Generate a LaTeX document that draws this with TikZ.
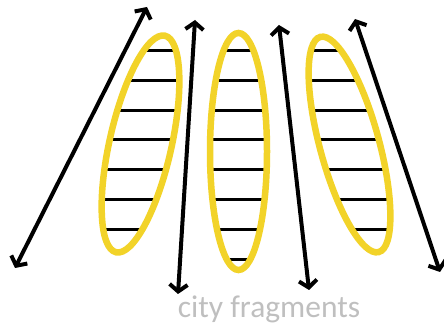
\documentclass[tikz,border=0pt]{standalone}
\usepackage{fontspec}
\setmainfont{Carlito}
\usetikzlibrary{arrows.meta}
\definecolor{ringyellow}{RGB}{242,211,41}
\definecolor{labelgray}{RGB}{191,191,191}

\begin{document}
\begin{tikzpicture}[x=1pt, y=1pt,
  link/.style={line width=4pt,
    {Straight Barb[length=7pt,width=18pt]}-{Straight Barb[length=7pt,width=18pt]}},
  ring/.style={draw=ringyellow, line width=6.5pt},
  rung/.style={line width=3pt}]
  \useasboundingbox (0,0) rectangle (444,329);
  % fragments with their rungs
  \foreach \cx/\cy/\tilt/\rx/\ry in {140.5/185/-12.7/31/111, 238.5/177.5/0/28.5/118.5, 349.5/184.5/15.2/29.6/111.5} {
    \begin{scope}
      \clip[rotate around={\tilt:(\cx,\cy)}] (\cx,\cy) ellipse [x radius=\rx, y radius=\ry];
      \foreach \yy in {278,248,218,189,159,129,99,69}
        \draw[rung] (\cx-60,\yy) -- (\cx+60,\yy);
    \end{scope}
    \draw[ring, rotate around={\tilt:(\cx,\cy)}] (\cx,\cy) ellipse [x radius=\rx, y radius=\ry];
  }
  % arrows
  \coordinate (low1) at (15,61);
  \coordinate (top1) at (147,322);
  \coordinate (low2) at (178,35);
  \coordinate (top2) at (195,309);
  \coordinate (low3) at (309,39);
  \coordinate (top3) at (279,304);
  \coordinate (low4) at (440,57);
  \coordinate (top4) at (355,310);
  \draw[link] (low1) -- (top1);
  \draw[link] (low2) -- (top2);
  \draw[link] (low3) -- (top3);
  \draw[link] (low4) -- (top4);
  \node[text=labelgray, font=\fontsize{31.5}{34}\selectfont, anchor=base] (caption) at (269,11) {city fragments};
\end{tikzpicture}
\end{document}
